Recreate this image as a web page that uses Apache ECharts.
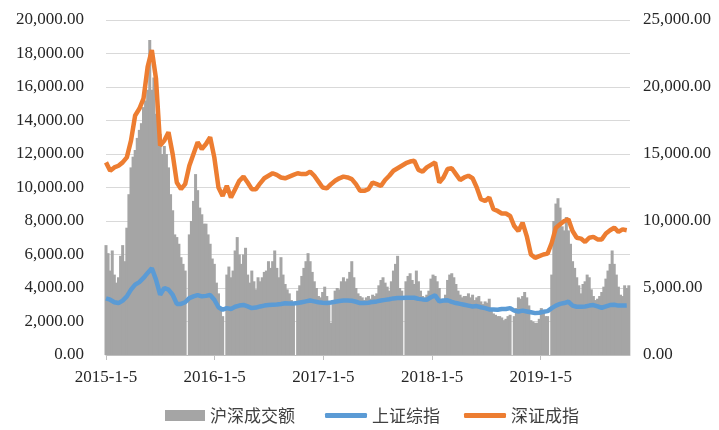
<!DOCTYPE html>
<html>
<head>
<meta charset="utf-8">
<title>沪深成交额与指数</title>
<script src="https://cdn.jsdelivr.net/npm/echarts@6/dist/echarts.min.js"></script>
<style>
    html, body { margin: 0; padding: 0; background: #fff; }
    #main { width: 719px; height: 430px; }
</style>
</head>
<body>
<div id="main"></div>
<script>
// x 轴: 自 2015-1-5 起的天数
var dayTotal = 1761;
var yearDays = 365.25;
var yearLabels = ['2015-1-5', '2016-1-5', '2017-1-5', '2018-1-5', '2019-1-5'];
var seriesNames = ['沪深成交额', '上证综指', '深证成指'];

// 沪深成交额 (亿元), 每 7 天一个值, null 为节假日
var turnoverStep = 7;
var turnover = [
    8200, 7600, 6300, 7800, 6000, 5400, 5800, 7400, 8200, 7000,
    9500, 12000, 14000, 14800, 15300, 16200, 16800, 17300, 18500, 19000,
    19800, 23500, 19800, 20700, 18000, 18300, 16500, 15000, 15600, 15000,
    14000, 12000, 10800, 9000, 8800, 8300, 7300, 6800, 6300, null,
    9000, 10000, 11500, 13500, 12300, 11000, 10500, 9800, 9800, 9000,
    8300, 7200, 6800, 5400, 4600, 3500, 2900, null, 6000, 6600,
    5800, 6300, 7800, 8800, 7500, 6800, 7500, 8000, 6000, 5400,
    6300, 5500, 4900, 5800, 5500, 5800, 6200, 6300, 7000, 6500,
    7000, 7800, 6500, 5800, 7300, 6000, 5300, 4900, 4600, 4100,
    3900, null, 4800, 5200, 5900, 6500, 7000, 7600, 7000, 6200,
    5500, 5000, 4400, 4300, 4700, 5100, 4400, 3800, 2400, 3800,
    4800, 5000, 4900, 5500, 5800, 5500, 5700, 6200, 7000, 5800,
    5000, 4600, 4400, 4300, 4100, 4300, 4400, 4200, 4500, 4400,
    4600, 5200, 5600, 5800, 5400, 5100, 4800, 5500, 6300, 6800,
    7400, 5000, 4800, null, 5500, 5900, 6100, 5600, 5300, 6300,
    5500, 4800, 4400, 4300, 4500, 4800, 5700, 6000, 5900, 5500,
    5000, 4200, 4100, 4500, 5600, 6000, 6100, 5800, 5300, 4800,
    4500, 4300, 4400, 4400, 4600, 4300, 4500, 4100, 4300, 4400,
    4000, 3800, 4000, 3900, 4200, 3500, 3100, 3000, 2900, 2900,
    2800, 2600, 2700, 2900, 3000, null, 2900, 3500, 4300, 4200,
    4400, 4700, 4300, 3700, 2600, 2500, 2400, 2400, 2700, 3500,
    3200, 2900, 2900, null, 6000, 10000, 11300, 11700, 11000, 9600,
    9300, 10300, 9300, 8300, 7000, 6500, 5800, 5200, 4600, 5300,
    5500, 6000, 5800, 4900, 4400, 4100, 4200, 4400, 4700, 5100,
    5700, 6300, 6800, 7800, 6800, 6000, 5100, 4500, 4400, 5200,
    5000, 5200
];

// 指数, 每 14 天一个值
var indexStep = 14;
var shComposite = [
    3380, 3300, 3150, 3100, 3250, 3500, 3900, 4200, 4350, 4600,
    4900, 5180, 4500, 3600, 4000, 3900, 3600, 3050, 3050, 3150,
    3400, 3500, 3580, 3500, 3530, 3580, 3300, 2850, 2700, 2800,
    2750, 2880, 2950, 2990, 2900, 2800, 2830, 2900, 2950, 2980,
    3000, 3020, 3050, 3090, 3080, 3080, 3100, 3150, 3200, 3250,
    3200, 3150, 3120, 3100, 3130, 3180, 3220, 3250, 3260, 3240,
    3180, 3100, 3100, 3120, 3170, 3200, 3250, 3290, 3330, 3380,
    3400, 3400, 3420, 3420, 3420, 3350, 3320, 3300, 3450, 3560,
    3200, 3250, 3270, 3170, 3100, 3050, 3000, 2950, 2900, 2920,
    2850, 2800, 2720, 2720, 2700, 2750, 2750, 2800, 2650, 2600,
    2650, 2600, 2550, 2500, 2520, 2580, 2620, 2800, 2950, 3050,
    3100, 3180, 2950, 2880, 2880, 2900, 2950, 2980, 2900, 2820,
    2900, 2980, 3000, 2950, 2950, 2960
];
var szComponent = [
    11500, 11000, 11200, 11300, 11500, 11800, 12800, 14300, 14700, 15300,
    17200, 18200, 16500, 12500, 12800, 13300, 12000, 10300, 9900, 10200,
    11300, 12000, 12700, 12300, 12600, 13000, 11800, 10000, 9500, 10100,
    9400, 9900, 10400, 10650, 10300, 9900, 9900, 10250, 10550, 10700,
    10850, 10750, 10600, 10550, 10650, 10750, 10850, 10800, 10800, 10950,
    10700, 10350, 10000, 9950, 10200, 10400, 10550, 10650, 10600, 10500,
    10200, 9800, 9800, 9900, 10300, 10200, 10100, 10450, 10700, 11000,
    11150, 11300, 11450, 11550, 11600, 11050, 10950, 11200, 11350, 11500,
    10300, 10600, 11100, 11150, 10800, 10450, 10600, 10700, 10550, 10000,
    9300, 9200, 9400, 8700, 8600, 8450, 8450, 8300, 7700, 7400,
    7900, 7100, 6000, 5800, 5900, 6000, 6050, 6700, 7600, 7800,
    8000, 8100, 7400, 7000, 6950, 6750, 7000, 7050, 6900, 6900,
    7250, 7450, 7600, 7350, 7500, 7450
];

function toPairs(arr, step) {
    return arr.map(function (v, i) { return [i * step, v]; });
}

function fmtNum(v) {
    var s = Number(v).toFixed(2);
    var parts = s.split('.');
    parts[0] = parts[0].replace(/\B(?=(\d{3})+(?!\d))/g, ',');
    return parts.join('.');
}

var labelFont = "'Liberation Serif', 'Times New Roman', 'Noto Sans CJK SC', serif";
var legendText = {fontSize: 17, color: '#404040', fontFamily: "'Noto Sans CJK SC', sans-serif"};

var myChart = echarts.init(document.getElementById('main'));
myChart.setOption({
    animation: false,
    backgroundColor: '#fff',
    color: ['#a5a5a5', '#5b9bd5', '#ed7d31'],
    grid: {left: 106, right: 89, top: 20, bottom: 75},
    legend: [
        {
            left: 160,
            top: 402,
            itemWidth: 40,
            itemHeight: 11,
            textStyle: legendText,
            data: [{name: seriesNames[0], icon: 'rect'}]
        },
        {
            left: 320,
            top: 402,
            itemWidth: 42,
            itemHeight: 5,
            itemGap: 24,
            icon: 'roundRect',
            textStyle: legendText,
            data: [seriesNames[1], seriesNames[2]]
        }
    ],
    xAxis: {
        type: 'value',
        min: 0,
        max: dayTotal,
        interval: yearDays,
        splitLine: {show: false},
        axisLine: {lineStyle: {color: '#bfbfbf', width: 1}},
        axisTick: {show: true, length: 5, lineStyle: {color: '#bfbfbf'}},
        axisLabel: {
            showMaxLabel: false,
            margin: 14,
            fontSize: 17,
            color: '#262626',
            fontFamily: labelFont,
            formatter: function (v) {
                var k = Math.round(v / yearDays);
                if (Math.abs(v - k * yearDays) < 1 && k < yearLabels.length) {
                    return yearLabels[k];
                }
                return '';
            }
        }
    },
    yAxis: [
        {
            type: 'value',
            min: 0,
            max: 20000,
            interval: 2000,
            axisLine: {show: false},
            axisTick: {show: false},
            splitLine: {lineStyle: {color: '#d9d9d9', width: 1}},
            axisLabel: {margin: 22, fontSize: 17, color: '#262626', fontFamily: labelFont, formatter: fmtNum}
        },
        {
            type: 'value',
            min: 0,
            max: 25000,
            interval: 5000,
            axisLine: {show: false},
            axisTick: {show: false},
            splitLine: {show: false},
            axisLabel: {margin: 13, fontSize: 17, color: '#262626', fontFamily: labelFont, formatter: fmtNum}
        }
    ],
    series: [
        {
            name: seriesNames[0],
            type: 'bar',
            yAxisIndex: 1,
            barWidth: 3,
            itemStyle: {color: '#a5a5a5'},
            data: toPairs(turnover, turnoverStep),
            z: 1
        },
        {
            name: seriesNames[1],
            type: 'line',
            yAxisIndex: 0,
            symbol: 'none',
            lineStyle: {width: 4.5, color: '#5b9bd5'},
            itemStyle: {color: '#5b9bd5'},
            data: toPairs(shComposite, indexStep),
            z: 3
        },
        {
            name: seriesNames[2],
            type: 'line',
            yAxisIndex: 0,
            symbol: 'none',
            lineStyle: {width: 4.5, color: '#ed7d31'},
            itemStyle: {color: '#ed7d31'},
            data: toPairs(szComponent, indexStep),
            z: 3
        }
    ]
});
</script>
</body>
</html>
